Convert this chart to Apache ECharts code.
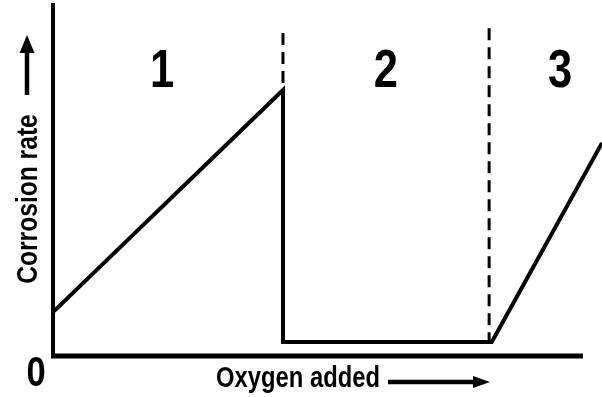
<!DOCTYPE html>
<html>
<head>
<meta charset="utf-8">
<script src="https://cdn.jsdelivr.net/npm/echarts@6/dist/echarts.min.js"></script>
<style>
  html, body { margin: 0; padding: 0; background: #fff; }
  #chart { width: 602px; height: 397px; }
</style>
</head>
<body>
<div id="chart"></div>
<script>
// curve: oxygen added vs corrosion rate (arbitrary units)
const oxygen = [0, 43.4, 43.4, 82.8, 103.6];
const corrosion = [12.5, 75.8, 4, 4, 60.7];

// dashed region boundaries
const boundaryX = [43.4, 82.3];
const boundaryTop = [92, 93.4];
const boundaryBottom = [75.8, 4];

// region numbers
const regionLabels = ['1', '2', '3'];
const regionX = [20.6, 62.8, 95.7];
const regionY = [80.9, 80.9, 80.9];

// drawn extent of the x axis line
const xAxisEnd = 100;

const font = 'bold {size}px "Liberation Sans", Arial, sans-serif';
const narrow = 0.82;

const chart = echarts.init(document.getElementById('chart'));

const series = [
  {
    type: 'line',
    data: oxygen.map((x, i) => [x, corrosion[i]]),
    symbol: 'none',
    lineStyle: { color: '#000', width: 4, join: 'miter' },
    z: 3
  }
];
boundaryX.forEach((x, i) => {
  series.push({
    type: 'line',
    data: [[x, boundaryTop[i]], [x, boundaryBottom[i]]],
    symbol: 'none',
    lineStyle: { color: '#000', width: 3, type: [12, 7] },
    z: 2
  });
});

chart.setOption({
  animation: false,
  grid: { left: 53, right: 0, top: 5, bottom: 41 },
  xAxis: {
    type: 'value',
    min: 0,
    max: 103.6,
    axisLine: { show: false },
    axisTick: { show: false },
    axisLabel: { show: false },
    splitLine: { show: false }
  },
  yAxis: {
    type: 'value',
    min: 0,
    max: 100,
    axisLine: { lineStyle: { color: '#000', width: 4, cap: 'square' } },
    axisTick: { show: false },
    axisLabel: { show: false },
    splitLine: { show: false }
  },
  series: series
});

function txt(text, x, y, size, rot) {
  return {
    type: 'text',
    x: x,
    y: y,
    rotation: rot || 0,
    scaleX: narrow,
    style: {
      text: text,
      font: font.replace('{size}', size),
      fill: '#000',
      textAlign: 'center',
      textVerticalAlign: 'middle'
    }
  };
}

const graphics = [];

// x axis line, stops short of the curve's end
const a0 = chart.convertToPixel({ gridIndex: 0 }, [0, 0]);
const a1 = chart.convertToPixel({ gridIndex: 0 }, [xAxisEnd, 0]);
graphics.push({
  type: 'line',
  shape: { x1: a0[0] - 2, y1: a0[1], x2: a1[0], y2: a1[1] },
  style: { stroke: '#000', lineWidth: 5 },
  z: 5
});

regionLabels.forEach((t, i) => {
  const p = chart.convertToPixel({ gridIndex: 0 }, [regionX[i], regionY[i]]);
  graphics.push(txt(t, p[0], p[1], 53));
});
graphics.push(txt('0', 36, 374, 42));
graphics.push(txt('Oxygen added', 298, 379, 29));
graphics.push(txt('Corrosion rate', 29, 199, 30, Math.PI / 2));

// axis arrows
graphics.push({
  type: 'line',
  shape: { x1: 27, y1: 95, x2: 27, y2: 50 },
  style: { stroke: '#000', lineWidth: 4.5 }
});
graphics.push({
  type: 'polygon',
  shape: { points: [[27, 35], [19.5, 53], [34.5, 53]] },
  style: { fill: '#000' }
});
graphics.push({
  type: 'line',
  shape: { x1: 388, y1: 382, x2: 476, y2: 382 },
  style: { stroke: '#000', lineWidth: 4.5 }
});
graphics.push({
  type: 'polygon',
  shape: { points: [[490, 382], [473, 376], [473, 388]] },
  style: { fill: '#000' }
});

chart.setOption({ graphic: graphics });
</script>
</body>
</html>
